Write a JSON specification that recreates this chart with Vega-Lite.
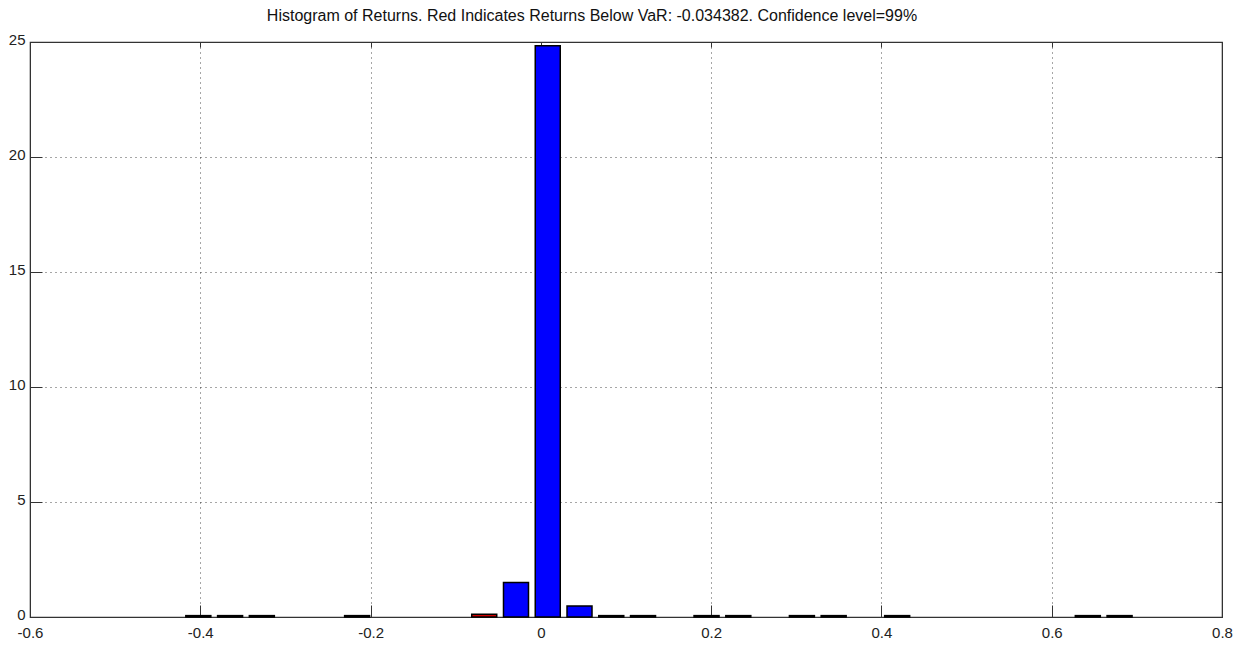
{
  "$schema": "https://vega.github.io/schema/vega-lite/v6.json",
  "autosize": "none",
  "width": 1192,
  "height": 575,
  "padding": {"left": 30, "top": 42, "right": 22, "bottom": 28},
  "background": "white",
  "title": {
    "text": "Histogram of Returns. Red Indicates Returns Below VaR: -0.034382. Confidence level=99%",
    "font": "Liberation Sans",
    "fontSize": 16,
    "fontWeight": "normal",
    "color": "#111",
    "anchor": "middle",
    "dx": -34,
    "offset": 8
  },
  "config": {
    "view": {"stroke": "#333", "strokeWidth": 1.2},
    "axis": {
      "labelFont": "Liberation Sans",
      "labelFontSize": 15,
      "labelColor": "#222",
      "domainColor": "#333",
      "tickColor": "#333",
      "gridColor": "#000",
      "gridDash": [1, 4],
      "gridOpacity": 0.7,
      "titleFontSize": 0
    }
  },
  "data": {
    "values": [
      {"r": -0.4023, "d": 0.06, "tail": "below"},
      {"r": -0.3650, "d": 0.06, "tail": "below"},
      {"r": -0.3277, "d": 0.06, "tail": "below"},
      {"r": -0.2158, "d": 0.06, "tail": "below"},
      {"r": -0.0665, "d": 0.12, "tail": "below"},
      {"r": -0.0292, "d": 1.5, "tail": "above"},
      {"r": 0.0081, "d": 24.84, "tail": "above"},
      {"r": 0.0454, "d": 0.48, "tail": "above"},
      {"r": 0.0827, "d": 0.06, "tail": "above"},
      {"r": 0.1200, "d": 0.06, "tail": "above"},
      {"r": 0.1946, "d": 0.06, "tail": "above"},
      {"r": 0.2319, "d": 0.06, "tail": "above"},
      {"r": 0.3066, "d": 0.06, "tail": "above"},
      {"r": 0.3439, "d": 0.06, "tail": "above"},
      {"r": 0.4185, "d": 0.06, "tail": "above"},
      {"r": 0.6424, "d": 0.06, "tail": "above"},
      {"r": 0.6797, "d": 0.06, "tail": "above"}
    ]
  },
  "layer": [
    {
      "mark": {"type": "bar", "width": 25, "stroke": "#000", "strokeWidth": 1.5},
      "encoding": {
        "x": {
          "field": "r", "type": "quantitative",
          "scale": {"domain": [-0.6, 0.8], "nice": false, "zero": false, "padding": 0},
          "axis": {
            "orient": "bottom", "title": null,
            "values": [-0.6, -0.4, -0.2, 0, 0.2, 0.4, 0.6, 0.8],
            "labelExpr": "'' + datum.value",
            "tickSize": -12, "labelPadding": 20, "grid": true,
            "labelFlush": false, "labelOverlap": false
          }
        },
        "y": {
          "field": "d", "type": "quantitative",
          "scale": {"domain": [0, 25], "nice": false, "padding": 0},
          "axis": {
            "orient": "left", "title": null,
            "values": [0, 5, 10, 15, 20, 25],
            "tickSize": -12, "labelPadding": 17, "labelOffset": -3, "grid": true,
            "labelFlush": false, "labelOverlap": false
          }
        },
        "color": {
          "field": "tail", "type": "nominal",
          "scale": {"domain": ["below", "above"], "range": ["#d00000", "#0000ff"]},
          "legend": null
        }
      }
    },
    {
      "mark": {"type": "point", "opacity": 0},
      "encoding": {
        "x": {
          "field": "r", "type": "quantitative",
          "axis": {
            "orient": "top", "title": null, "labels": false, "grid": false,
            "values": [-0.6, -0.4, -0.2, 0, 0.2, 0.4, 0.6, 0.8],
            "tickSize": -5
          }
        },
        "y": {
          "field": "d", "type": "quantitative",
          "axis": {
            "orient": "right", "title": null, "labels": false, "grid": false,
            "values": [0, 5, 10, 15, 20, 25],
            "tickSize": -5
          }
        }
      }
    }
  ],
  "resolve": {"axis": {"x": "independent", "y": "independent"}}
}
